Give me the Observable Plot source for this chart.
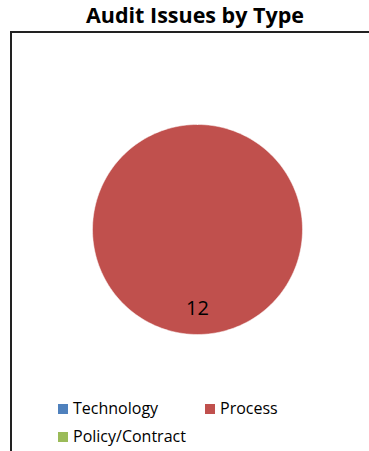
<!DOCTYPE html>
<html>
<head>
<meta charset="utf-8">
<script src="https://cdn.jsdelivr.net/npm/d3@7"></script>
<script src="https://cdn.jsdelivr.net/npm/@observablehq/plot@0.6"></script>
<style>
  html, body { margin: 0; padding: 0; background: #fff; }
  #wrap { position: relative; width: 369px; height: 451px; overflow: hidden; font-family: "Open Sans", "Liberation Sans", sans-serif; }
  #title { position: absolute; left: 0; width: 390px; top: 0px; text-align: center; font-weight: bold; font-size: 21.5px; color: #000; }
  #frame { position: absolute; left: 10px; top: 31px; width: 400px; height: 440px; border-left: 2px solid #222; border-top: 2px solid #222; }
  #chart { position: absolute; left: 0; top: 0; }
  .leg { position: absolute; font-size: 16px; color: #000; line-height: 18px; }
  .sw { display: inline-block; width: 10px; height: 10px; margin-right: 5px; vertical-align: 0px; }
</style>
</head>
<body>
<div id="wrap">
  <div id="frame"></div>
  <div id="title">Audit Issues by Type</div>
  <div id="chart"></div>
  <div id="legend"></div>
</div>
<script>
const categories = ["Technology", "Process", "Policy/Contract"];
const counts = [0, 12, 0];
const colors = ["#4F81BD", "#C0504D", "#9BBB59"];

const data = categories.map((c, i) => ({type: c, value: counts[i]}));
const arcs = d3.pie().sort(null).value(d => d.value)(data);

const pts = [];
arcs.forEach(a => {
  if (a.endAngle - a.startAngle <= 0) return;
  const full = a.endAngle - a.startAngle >= 2 * Math.PI - 1e-9;
  const n = 180;
  if (!full) pts.push({type: a.data.type, x: 0, y: 0});
  for (let k = 0; k <= n; k++) {
    const t = a.startAngle + (a.endAngle - a.startAngle) * k / n;
    pts.push({type: a.data.type, x: Math.sin(t), y: Math.cos(t)});
  }
});
const labels = arcs.filter(a => a.data.value > 0).map(a => {
  const m = (a.startAngle + a.endAngle) / 2;
  return {x: Math.sin(m) * 0.75, y: Math.cos(m) * 0.75, text: String(a.data.value)};
});

const plot = Plot.plot({
  width: 369,
  height: 451,
  margin: 0,
  x: {domain: [-1, 1], range: [92, 302], axis: null},
  y: {domain: [-1, 1], range: [334, 124], axis: null},
  color: {domain: categories, range: colors},
  style: {background: "transparent", overflow: "visible"},
  marks: [
    Plot.line(pts, {x: "x", y: "y", z: "type", fill: "type", stroke: "white", strokeWidth: 0.5, curve: "linear-closed"}),
    Plot.text(labels, {x: "x", y: "y", text: "text", fontSize: 20, fill: "#000", fontFamily: "Open Sans, Liberation Sans, sans-serif"})
  ]
});
plot.style.background = "transparent";
document.getElementById("chart").appendChild(plot);

const legendPos = [[58, 399], [205, 399], [58, 427]];
const leg = document.getElementById("legend");
categories.forEach((c, i) => {
  const d = document.createElement("div");
  d.className = "leg";
  d.style.left = legendPos[i][0] + "px";
  d.style.top = legendPos[i][1] + "px";
  d.innerHTML = `<span class="sw" style="background:${colors[i]}"></span>${c}`;
  leg.appendChild(d);
});
</script>
</body>
</html>
